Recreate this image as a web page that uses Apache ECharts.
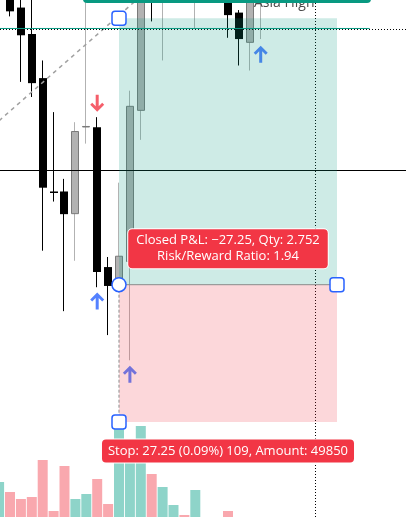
<!DOCTYPE html>
<html><head><meta charset="utf-8">
<script src="https://cdn.jsdelivr.net/npm/echarts@6/dist/echarts.min.js"></script>
<style>html,body{margin:0;padding:0;background:#fff;overflow:hidden}#c{width:406px;height:517px}</style>
</head><body><div id="c"></div>
<script>
// ---- data ----
const categories = ["08:55","09:00","09:05","09:10","09:15","09:20","09:25","09:30","09:35","09:40","09:45","09:50","09:55",
  "10:00","10:05","10:10","10:15","10:20","10:25","10:30","10:35","10:40","10:45","10:50","10:55",
  "11:00","11:05","11:10","11:15","11:20","11:25","11:30","11:35","11:40","11:45","11:50","11:55","12:00"];
const opens  = [30058, 30059.5, 30055, 30049.75, 30041, 30018.5, 30018.5, 30014, 30031.25, 30031.25, 30003.5, 29999.5, 30004.5, 30034.5, 30068, 30058.5, 30062, 30070, 30060, 30068, 30071, 30057, 30054, 30048, 30058];
const closes = [30064, 30054.25, 30049.5, 30040, 30019.25, 30018.25, 30014, 30030.5, 30031.5, 30002.5, 29999.75, 30005.75, 30035.5, 30064.5, 30058, 30072, 30070, 30066, 30068, 30071, 30066, 30053.5, 30048.75, 30058.5, 30062];
const lows   = [30057, 30053.25, 30040.25, 30037.25, 30006.75, 30016.5, 29994.75, 30004.75, 30028, 29999.5, 29990, 29998.5, 29985, 30028.75, 30052.25, 30044.5, 30058, 30063, 30050.75, 30065, 30062, 30049, 30043.5, 30042.5, 30048.75];
const highs  = [30066, 30061, 30058.5, 30058, 30044.5, 30034.25, 30021, 30032.25, 30059.5, 30033.25, 30005.5, 30020.25, 30038.5, 30066.5, 30070, 30075, 30073, 30072, 30070, 30074, 30073, 30060, 30054.5, 30060, 30064];
const volumes = [350, 250, 180, 200, 570, 60, 510, 180, 230, 380, 130, 890, 720, 910, 430, 300, 120, 20, 270, 0, 0, 60, 0, 0, 0];

const upArrows = [[9, 29996.75], [12, 29982.25], [24, 30045.75]];
const downArrows = [[9, 30036]];

const entryPrice = 30000;
const stopPrice = 29972.75;
const targetPrice = 30052.87;
const positionStart = 11;
const positionEnd = 31;

const hLinePrice = 30022.75;
const asiaHighPrice = 30050.85;
const asiaHighEnd = 34;
const vLineIndex = 29;
const trendLine = [[0, 30032.55], [13, 30057.25]];

const closedPnl = "−27.25", qty = "2.752", rrRatio = "1.94";
const stopPts = "27.25", stopPct = "0.09%", stopTicks = "109", amount = "49850";
const asiaHighText = "Asia High";

// ---- chart ----
const closedText = "Closed P&L: " + closedPnl + ", Qty: " + qty + "\nRisk/Reward Ratio: " + rrRatio;
const stopText = "Stop: " + stopPts + " (" + stopPct + ") " + stopTicks + ", Amount: " + amount;
const FONT = '"Open Sans", Roboto, sans-serif';

const candleData = opens.map((o, i) => [i, o, closes[i], lows[i], highs[i]]);
const volData = volumes.map((v, i) => ({
  value: [i, v],
  itemStyle: { color: closes[i] >= opens[i] ? '#8ed4c9' : '#f9a8ae' }
}));

const chart = echarts.init(document.getElementById('c'), null, { renderer: 'canvas' });
const X_MIN = 0.0826, X_MAX = 37.3303;

const upPath = 'path://M7,0 L14,7 L12,9 L8.5,5.5 L8.5,17 L5.5,17 L5.5,5.5 L2,9 L0,7 Z';
const downPath = 'path://M7,17 L14,10 L12,8 L8.5,11.5 L8.5,0 L5.5,0 L5.5,11.5 L2,8 L0,10 Z';

const xAxisBase = {
  type: 'value', min: X_MIN, max: X_MAX, show: false, splitLine: { show: false },
  axisLabel: { formatter: v => categories[Math.round(v)] || '' }
};

chart.setOption({
  animation: false,
  backgroundColor: '#ffffff',
  grid: [
    { left: 0, right: 0, top: 0, bottom: 0, containLabel: false },
    { left: 0, right: 0, top: 417, bottom: 0, containLabel: false }
  ],
  xAxis: [
    Object.assign({ gridIndex: 0 }, xAxisBase),
    Object.assign({ gridIndex: 1 }, xAxisBase)
  ],
  yAxis: [
    { type: 'value', gridIndex: 0, min: 29953.9, max: 30056.5, show: false, splitLine: { show: false } },
    { type: 'value', gridIndex: 1, min: 0, max: 1000, show: false, splitLine: { show: false } }
  ],
  series: [
    {
      type: 'bar', xAxisIndex: 1, yAxisIndex: 1, data: volData, barWidth: 10, silent: true, z: 1
    },
    {
      type: 'custom', xAxisIndex: 0, yAxisIndex: 0, z: 2, silent: true,
      data: candleData, encode: { x: 0, y: [1, 2, 3, 4] },
      renderItem: function (params, api) {
        const i = api.value(0), o = api.value(1), c = api.value(2), l = api.value(3), h = api.value(4);
        const pO = api.coord([i, o]), pC = api.coord([i, c]), pL = api.coord([i, l]), pH = api.coord([i, h]);
        const left = Math.round(pO[0] - 4);
        const up = c >= o;
        const top = Math.min(pO[1], pC[1]);
        const bh = Math.max(1.5, Math.abs(pO[1] - pC[1]));
        const wx = left + 3.5;
        const children = [
          { type: 'line', shape: { x1: wx, y1: pH[1], x2: wx, y2: pL[1] }, style: { stroke: up ? '#b2b2b2' : '#000', lineWidth: 1 } }
        ];
        if (up) {
          children.push({ type: 'rect', shape: { x: left + 0.5, y: top + 0.5, width: 7, height: Math.max(0.5, bh - 1) },
            style: { fill: '#b2b2b2', stroke: '#7a7a7a', lineWidth: 1 } });
        } else {
          children.push({ type: 'rect', shape: { x: left, y: top, width: 8, height: bh }, style: { fill: '#000' } });
        }
        return { type: 'group', children: children };
      }
    },
    {
      type: 'line', xAxisIndex: 0, yAxisIndex: 0, data: trendLine, symbol: 'none', silent: true, z: 3,
      lineStyle: { color: '#a0a0a0', width: 1.5, type: [4, 4] },
      markLine: {
        silent: true, symbol: ['none', 'none'], label: { show: false }, animation: false,
        data: [
          { yAxis: hLinePrice, lineStyle: { color: '#000', width: 1, type: 'solid' } },
          { yAxis: asiaHighPrice - 0.2, lineStyle: { color: '#000', width: 1, type: [1, 2] } },
          { xAxis: vLineIndex, lineStyle: { color: '#000', width: 1, type: [1, 2] } }
        ]
      }
    },
    {
      type: 'line', xAxisIndex: 0, yAxisIndex: 0, data: [[0, asiaHighPrice], [asiaHighEnd, asiaHighPrice]],
      symbol: 'none', silent: true, z: 3, lineStyle: { color: '#089981', width: 1 }
    },
    {
      type: 'scatter', xAxisIndex: 0, yAxisIndex: 0, data: upArrows, symbol: upPath, symbolSize: [14, 17],
      itemStyle: { color: '#2962ff' }, silent: true, z: 4
    },
    {
      type: 'scatter', xAxisIndex: 0, yAxisIndex: 0, data: downArrows, symbol: downPath, symbolSize: [14, 17],
      itemStyle: { color: '#f23645' }, silent: true, z: 4
    },
    {
      type: 'custom', xAxisIndex: 0, yAxisIndex: 0, z: 10, silent: true, clip: false,
      data: [[positionStart, positionEnd, entryPrice, stopPrice, targetPrice]],
      encode: { x: [0, 1], y: [2, 3, 4] },
      renderItem: function (params, api) {
        const s = api.coord([api.value(0), api.value(2)]);
        const e = api.coord([api.value(1), api.value(2)]);
        const st = api.coord([api.value(0), api.value(3)]);
        const tg = api.coord([api.value(0), api.value(4)]);
        const x0 = s[0], x1 = e[0], yE = s[1], yS = st[1], yT = tg[1];
        const cx = (x0 + x1) / 2;
        const hs = { fill: '#fff', stroke: '#2962ff', lineWidth: 1.5 };
        const lbl = { fill: '#fff', font: '13px ' + FONT, align: 'center', verticalAlign: 'middle',
          lineHeight: 16, backgroundColor: '#f23645', borderRadius: 4, borderColor: '#ffffff', borderWidth: 1 };
        return {
          type: 'group', children: [
            { type: 'rect', shape: { x: x0, y: yT, width: x1 - x0, height: yE - yT }, style: { fill: 'rgba(8,153,129,0.2)' } },
            { type: 'rect', shape: { x: x0, y: yE, width: x1 - x0, height: yS - yE }, style: { fill: 'rgba(242,54,69,0.2)' } },
            { type: 'line', shape: { x1: x0, y1: yE, x2: x1, y2: yE }, style: { stroke: '#8a8a8a', lineWidth: 1 } },
            { type: 'line', shape: { x1: x0, y1: yE, x2: x0, y2: yS }, style: { stroke: '#8a8a8a', lineWidth: 1, lineDash: [3, 2] } },
            { type: 'text', x: cx, y: yE - 36, style: Object.assign({ text: closedText, padding: [4, 8, 3, 8] }, lbl) },
            { type: 'text', x: cx, y: yS + 29, style: Object.assign({ text: stopText, padding: [4, 6, 3, 6] }, lbl) },
            { type: 'circle', shape: { cx: x0, cy: yE, r: 7 }, style: hs },
            { type: 'rect', shape: { x: x1 - 7, y: yE - 7, width: 14, height: 14, r: 3 }, style: hs },
            { type: 'rect', shape: { x: x0 - 7, y: yT - 7, width: 14, height: 14, r: 3 }, style: hs },
            { type: 'rect', shape: { x: x0 - 7, y: yS - 7, width: 14, height: 14, r: 3 }, style: hs }
          ]
        };
      }
    }
  ],
  graphic: [
    { type: 'text', x: 254, y: 3, z: 50, style: { text: asiaHighText, font: '14px ' + FONT, fill: '#4a4a4a', verticalAlign: 'middle' } },
    { type: 'rect', z: 51, shape: { x: 83, y: -6, width: 288, height: 9, r: 4 }, style: { fill: '#089981' } }
  ]
});
</script></body></html>
